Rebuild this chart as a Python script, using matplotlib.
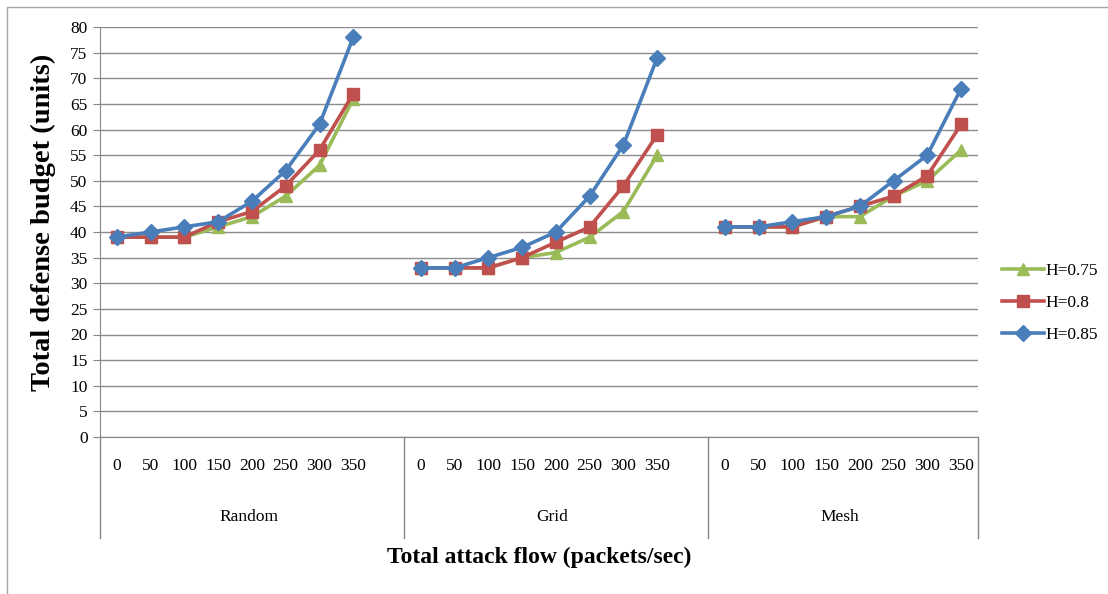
import matplotlib
matplotlib.use("Agg")
import matplotlib.pyplot as plt
from matplotlib.lines import Line2D

# ---- data ----
groups = ["Random", "Grid", "Mesh"]
flows = ["0", "50", "100", "150", "200", "250", "300", "350"]
series_names = ["H=0.75", "H=0.8", "H=0.85"]

h075_random = [39, 39, 39, 41, 43, 47, 53, 66]
h075_grid = [33, 33, 33, 35, 36, 39, 44, 55]
h075_mesh = [41, 41, 41, 43, 43, 47, 50, 56]

h080_random = [39, 39, 39, 42, 44, 49, 56, 67]
h080_grid = [33, 33, 33, 35, 38, 41, 49, 59]
h080_mesh = [41, 41, 41, 43, 45, 47, 51, 61]

h085_random = [39, 40, 41, 42, 46, 52, 61, 78]
h085_grid = [33, 33, 35, 37, 40, 47, 57, 74]
h085_mesh = [41, 41, 42, 43, 45, 50, 55, 68]

series_values = [
    [h075_random, h075_grid, h075_mesh],
    [h080_random, h080_grid, h080_mesh],
    [h085_random, h085_grid, h085_mesh],
]
colors = ["#9BBB59", "#C0504D", "#4A7EBB"]
markers = ["^", "s", "D"]
msizes = [9, 9, 8]

y_ticks = list(range(0, 85, 5))

# ---- figure ----
plt.rcParams["font.family"] = ["Liberation Serif", "DejaVu Serif"]
W, H = 1108, 594
fig = plt.figure(figsize=(W / 100, H / 100), dpi=100)

# outer chart border (only left and top edges fall inside the image)
fig.add_artist(Line2D([6.5 / W, 6.5 / W, 1.0], [0.0, 1 - 6.5 / H, 1 - 6.5 / H],
                      transform=fig.transFigure, color="#A6A6A6", linewidth=1.0))

L, R, T, B = 100, 978, 27, 437
ax = fig.add_axes([L / W, 1 - B / H, (R - L) / W, (B - T) / H])

# category slots per group (Random and Grid carry a trailing empty category)
group_slots = [9, 9, 8]
starts = [sum(group_slots[:g]) for g in range(3)]
total = sum(group_slots)

for s in range(3):
    for g in range(3):
        xs = [starts[g] + i for i in range(len(flows))]
        ax.plot(xs, series_values[s][g], color=colors[s], linewidth=2.6,
                marker=markers[s], markersize=msizes[s], zorder=3 + s,
                solid_joinstyle="round")

ax.set_xlim(-0.5, total - 0.5)
ax.set_ylim(0, 80)
ax.set_yticks(y_ticks)
ax.set_yticklabels([str(v) for v in y_ticks], fontsize=12.5)
ax.tick_params(axis="y", direction="out", length=5, color="#868686", pad=4)
ax.set_xticks([])
ax.grid(axis="y", color="#8C8C8C", linewidth=1.0)
ax.set_axisbelow(True)
for sp in ["top", "right"]:
    ax.spines[sp].set_visible(False)
ax.spines["left"].set_color("#868686")
ax.spines["bottom"].set_color("#868686")

trans = ax.get_xaxis_transform()
axh = B - T
tick_y = -(466 - B) / axh
grp_y = -(517 - B) / axh
sep_y = -(538 - B) / axh
for g, name in enumerate(groups):
    for i, lab in enumerate(flows):
        ax.text(starts[g] + i, tick_y, lab, transform=trans, ha="center", va="center", fontsize=12.5)
    ax.text(starts[g] + (group_slots[g] - 1) / 2 - 0.1, grp_y, name, transform=trans,
            ha="center", va="center", fontsize=12.5)
for x in [s - 0.5 for s in starts] + [total - 0.5]:
    ax.add_line(Line2D([x, x], [0, sep_y], transform=trans, color="#868686",
                       linewidth=1.0, clip_on=False))

fig.text(43 / W, 1 - 222 / H, "Total defense budget (units)", rotation=90, ha="center", va="center",
         fontsize=20.5, fontweight="bold")
fig.text((L + R) / 2 / W, 1 - 557 / H, "Total attack flow (packets/sec)", ha="center", va="center",
         fontsize=17, fontweight="bold")

# legend
handles = [Line2D([], [], color=colors[s], linewidth=2.6, marker=markers[s], markersize=msizes[s])
           for s in range(3)]
leg = fig.legend(handles, series_names, loc="center left", bbox_to_anchor=(995 / W, 1 - 303 / H),
                 frameon=False, fontsize=12.5, handlelength=2.4, handletextpad=0.1, labelspacing=0.9,
                 borderaxespad=0)

fig.savefig("out.png", dpi=100)
